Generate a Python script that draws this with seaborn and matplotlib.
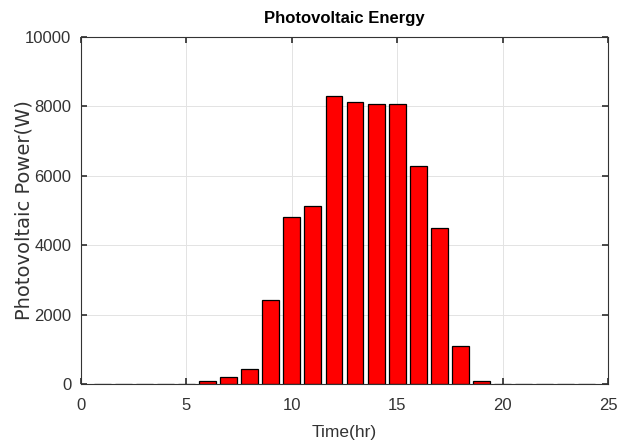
import matplotlib
matplotlib.use("Agg")
import matplotlib.pyplot as plt
import seaborn as sns
import pandas as pd

hours = list(range(1, 25))
power = [0, 0, 0, 0, 0, 86, 200, 432, 2420, 4810, 5130, 8290, 8125, 8060,
         8060, 6280, 4496, 1095, 86, 0, 0, 0, 0, 0]
xticks = [0, 5, 10, 15, 20, 25]
yticks = [0, 2000, 4000, 6000, 8000, 10000]

sns.set_theme(style="whitegrid")
plt.rcParams['font.family'] = ["Liberation Sans", 'DejaVu Sans']

df = pd.DataFrame({"hour": hours, "power": power})

fig = plt.figure(figsize=(6.29, 4.44), dpi=100)
ax = fig.add_axes([0.1288, 0.1351, 0.9666 - 0.1288, 0.9167 - 0.1351])
sns.barplot(data=df, x="hour", y="power", native_scale=True, color="#ff0000",
            saturation=1, edgecolor="black", linewidth=0.9, width=0.8, ax=ax)

ax.set_xlim(0, 25)
ax.set_ylim(0, 10000)
ax.set_xticks(xticks)
ax.set_yticks(yticks)
ax.set_xticklabels([str(t) for t in xticks], fontsize=12, color="#333333")
ax.set_yticklabels([str(t) for t in yticks], fontsize=12, color="#333333")
ax.grid(True, color="#e3e3e3", linewidth=0.7)
ax.set_axisbelow(True)
for s in ax.spines.values():
    s.set_color("#333333")
    s.set_linewidth(0.8)
    s.set_visible(True)
ax.tick_params(direction="in", length=4, color="#333333", top=True, right=True,
               bottom=True, left=True)
ax.tick_params(axis="x", pad=10)
ax.tick_params(axis="y", pad=7)
ax.set_xlabel("Time(hr)", fontsize=12.5, color="#333333", labelpad=9)
ax.set_ylabel("Photovoltaic Power(W)", fontsize=14, color="#333333",
              family=["DejaVu Sans"], labelpad=-6)
ax.set_title("Photovoltaic Energy", fontsize=12, fontweight="bold", color="black", pad=10)

fig.savefig("out.png", dpi=100)
